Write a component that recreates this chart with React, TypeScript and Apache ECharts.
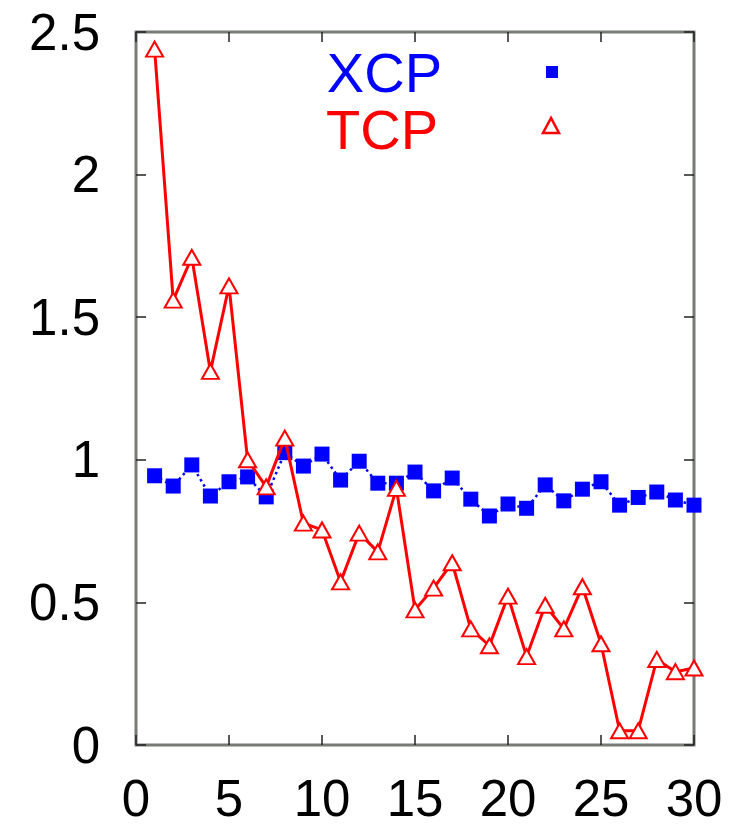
import React, { useEffect, useRef } from "react";
import * as echarts from "echarts";

const runs = [1, 2, 3, 4, 5, 6, 7, 8, 9, 10, 11, 12, 13, 14, 15, 16, 17, 18, 19, 20, 21, 22, 23, 24, 25, 26, 27, 28, 29, 30];
const xcpValues = [0.944, 0.908, 0.982, 0.873, 0.923, 0.94, 0.87, 1.025, 0.978, 1.02, 0.929, 0.995, 0.918, 0.918, 0.957, 0.891, 0.936, 0.862, 0.803, 0.845, 0.83, 0.912, 0.856, 0.897, 0.923, 0.841, 0.868, 0.887, 0.859, 0.841];
const tcpValues = [2.44, 1.56, 1.71, 1.31, 1.61, 1.0, 0.905, 1.076, 0.778, 0.754, 0.572, 0.743, 0.677, 0.9, 0.474, 0.55, 0.639, 0.407, 0.348, 0.522, 0.31, 0.49, 0.407, 0.555, 0.355, 0.05, 0.05, 0.3, 0.257, 0.27];
const legendNames = ["XCP", "TCP"];

const BLUE = "#0000ff";
const RED = "#ff0000";
const FONT = "'Liberation Sans', Arial, Helvetica, sans-serif";

function tick() {
  return { show: true, inside: true, length: 10, lineStyle: { color: "#222", width: 1.5 } };
}

export default function App() {
  const ref = useRef<HTMLDivElement>(null);
  useEffect(() => {
    document.body.style.margin = "0";
    const chart = echarts.init(ref.current!, null, { renderer: "svg" });
    chart.setOption({
      animation: false,
      backgroundColor: "#ffffff",
      grid: {
        left: 136,
        right: 36,
        top: 32,
        bottom: 83,
        show: true,
        borderColor: "#767b76",
        borderWidth: 3,
        backgroundColor: "transparent",
      },
      xAxis: [
        {
          type: "value",
          min: 0,
          max: 30,
          interval: 5,
          axisLine: { show: false, onZero: false },
          axisTick: tick(),
          splitLine: { show: false },
          axisLabel: { color: "#000", fontSize: 51, fontFamily: FONT, margin: 28 },
        },
        {
          type: "value",
          position: "top",
          min: 0,
          max: 30,
          interval: 5,
          axisLine: { show: false, onZero: false },
          axisTick: tick(),
          splitLine: { show: false },
          axisLabel: { show: false },
        },
      ],
      yAxis: [
        {
          type: "value",
          min: 0,
          max: 2.5,
          interval: 0.5,
          axisLine: { show: false, onZero: false },
          axisTick: tick(),
          splitLine: { show: false },
          axisLabel: { color: "#000", fontSize: 51, fontFamily: FONT, margin: 36 },
        },
        {
          type: "value",
          position: "right",
          min: 0,
          max: 2.5,
          interval: 0.5,
          axisLine: { show: false, onZero: false },
          axisTick: tick(),
          splitLine: { show: false },
          axisLabel: { show: false },
        },
      ],
      series: [
        {
          name: legendNames[0],
          type: "line",
          data: runs.map((r, i) => [r, xcpValues[i]]),
          symbol: "rect",
          symbolSize: 15,
          itemStyle: { color: BLUE },
          lineStyle: { color: BLUE, width: 2.5, type: [2.5, 3.5] },
          z: 2,
        },
        {
          name: legendNames[1],
          type: "line",
          data: runs.map((r, i) => [r, tcpValues[i]]),
          symbol: "emptyTriangle",
          symbolSize: [17, 15],
          itemStyle: { color: RED, borderColor: RED, borderWidth: 2.5 },
          lineStyle: { color: RED, width: 3 },
          z: 3,
        },
      ],
      graphic: [
        {
          type: "text",
          right: 730 - 442,
          top: 44,
          style: { text: legendNames[0], fill: BLUE, fontSize: 56, lineHeight: 56, fontFamily: FONT, textAlign: "right" },
        },
        {
          type: "text",
          right: 730 - 438,
          top: 101,
          style: { text: legendNames[1], fill: RED, fontSize: 56, lineHeight: 56, fontFamily: FONT, textAlign: "right" },
        },
        {
          type: "rect",
          shape: { x: 546, y: 66, width: 12, height: 12 },
          style: { fill: BLUE },
        },
        {
          type: "polygon",
          shape: { points: [[551, 118], [543, 133], [559, 133]] },
          style: { fill: "#fff", stroke: RED, lineWidth: 2.5 },
        },
      ],
    });
    return () => chart.dispose();
  }, []);
  return <div ref={ref} style={{ width: 730, height: 828 }} />;
}
